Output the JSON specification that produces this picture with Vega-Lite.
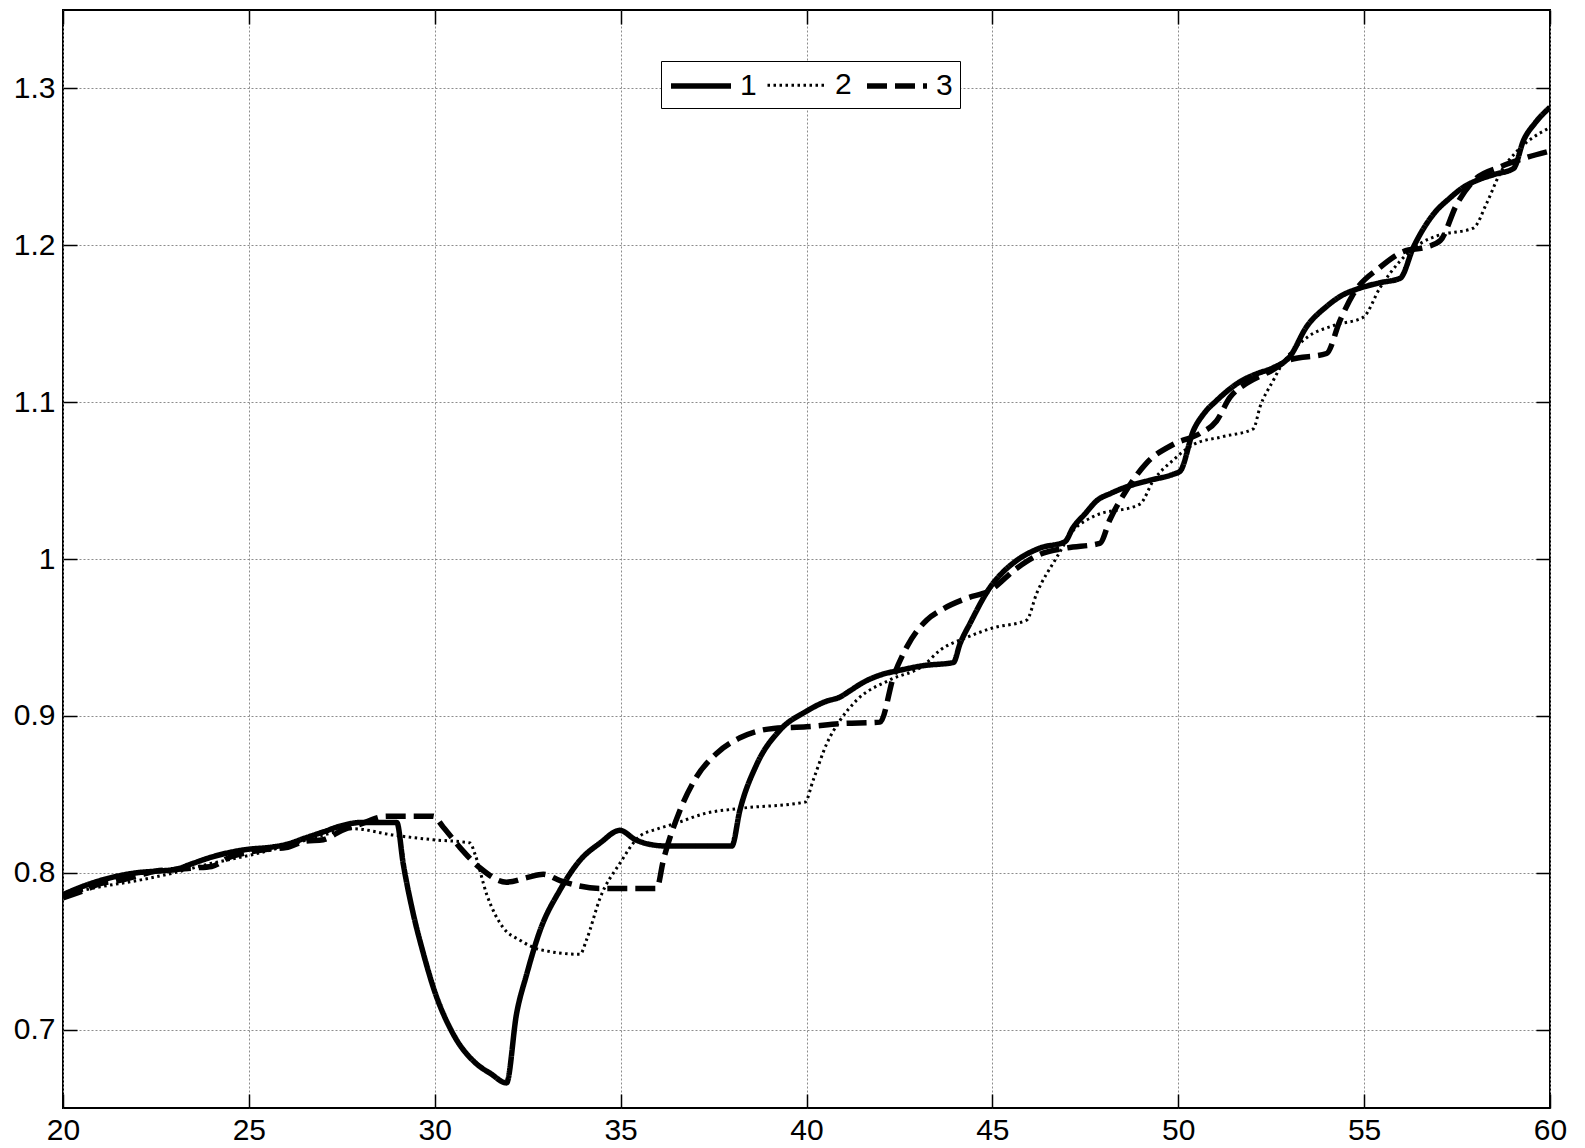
{
  "$schema": "https://vega.github.io/schema/vega-lite/v6.json",
  "width": 1487,
  "height": 1098,
  "autosize": {"type": "none"},
  "padding": {"left": 63, "top": 10, "right": 35, "bottom": 40},
  "background": "white",
  "config": {
    "view": {"stroke": "black", "strokeWidth": 2},
    "font": "Liberation Sans",
    "axis": {
      "labelFont": "Liberation Sans",
      "labelFontSize": 30,
      "labelColor": "black",
      "labelFlush": false,
      "labelOverlap": false,
      "domain": false,
      "gridColor": "#8c8c8c",
      "gridDash": [2, 2],
      "gridWidth": 1,
      "tickColor": "black",
      "tickSize": -14,
      "tickWidth": 1.5,
      "title": null,
      "labelPadding": 22
    },
    "axisBottom": {"labelPadding": 21}
  },
  "datasets": {
    "curves": [
      {"x": 20.0, "y": 0.786, "s": "1"}, {"x": 20.5, "y": 0.791, "s": "1"}, {"x": 21.0, "y": 0.795, "s": "1"}, {"x": 21.5, "y": 0.798, "s": "1"},
      {"x": 22.0, "y": 0.800, "s": "1"}, {"x": 22.5, "y": 0.801, "s": "1"}, {"x": 23.0, "y": 0.802, "s": "1"}, {"x": 23.5, "y": 0.806, "s": "1"},
      {"x": 24.0, "y": 0.810, "s": "1"}, {"x": 24.5, "y": 0.813, "s": "1"}, {"x": 25.0, "y": 0.815, "s": "1"}, {"x": 25.5, "y": 0.816, "s": "1"},
      {"x": 26.0, "y": 0.818, "s": "1"}, {"x": 26.5, "y": 0.822, "s": "1"}, {"x": 27.0, "y": 0.826, "s": "1"}, {"x": 27.5, "y": 0.830, "s": "1"},
      {"x": 28.0, "y": 0.832, "s": "1"}, {"x": 28.5, "y": 0.832, "s": "1"}, {"x": 28.98, "y": 0.832, "s": "1"}, {"x": 29.15, "y": 0.806, "s": "1"},
      {"x": 29.42, "y": 0.774, "s": "1"}, {"x": 29.7, "y": 0.748, "s": "1"}, {"x": 29.96, "y": 0.727, "s": "1"}, {"x": 30.5, "y": 0.697, "s": "1"},
      {"x": 31.13, "y": 0.678, "s": "1"}, {"x": 31.5, "y": 0.672, "s": "1"}, {"x": 31.93, "y": 0.666, "s": "1"}, {"x": 32.2, "y": 0.710, "s": "1"},
      {"x": 32.47, "y": 0.735, "s": "1"}, {"x": 32.83, "y": 0.763, "s": "1"}, {"x": 33.37, "y": 0.789, "s": "1"}, {"x": 33.91, "y": 0.808, "s": "1"},
      {"x": 34.45, "y": 0.819, "s": "1"}, {"x": 34.98, "y": 0.827, "s": "1"}, {"x": 35.4, "y": 0.821, "s": "1"}, {"x": 35.8, "y": 0.818, "s": "1"},
      {"x": 36.24, "y": 0.817, "s": "1"}, {"x": 37.99, "y": 0.817, "s": "1"}, {"x": 38.21, "y": 0.840, "s": "1"}, {"x": 38.66, "y": 0.869, "s": "1"},
      {"x": 39.29, "y": 0.891, "s": "1"}, {"x": 40.0, "y": 0.903, "s": "1"}, {"x": 40.5, "y": 0.909, "s": "1"}, {"x": 40.9, "y": 0.912, "s": "1"},
      {"x": 41.17, "y": 0.916, "s": "1"}, {"x": 41.5, "y": 0.921, "s": "1"}, {"x": 41.98, "y": 0.926, "s": "1"}, {"x": 42.5, "y": 0.929, "s": "1"},
      {"x": 43.14, "y": 0.932, "s": "1"}, {"x": 43.95, "y": 0.934, "s": "1"}, {"x": 44.13, "y": 0.946, "s": "1"}, {"x": 44.4, "y": 0.959, "s": "1"},
      {"x": 44.94, "y": 0.982, "s": "1"}, {"x": 45.3, "y": 0.992, "s": "1"}, {"x": 45.65, "y": 0.999, "s": "1"}, {"x": 46.28, "y": 1.007, "s": "1"},
      {"x": 46.95, "y": 1.011, "s": "1"}, {"x": 47.17, "y": 1.020, "s": "1"}, {"x": 47.5, "y": 1.029, "s": "1"}, {"x": 47.8, "y": 1.037, "s": "1"},
      {"x": 48.2, "y": 1.042, "s": "1"}, {"x": 48.61, "y": 1.046, "s": "1"}, {"x": 49.2, "y": 1.050, "s": "1"}, {"x": 49.86, "y": 1.054, "s": "1"},
      {"x": 50.05, "y": 1.056, "s": "1"}, {"x": 50.41, "y": 1.082, "s": "1"}, {"x": 50.7, "y": 1.093, "s": "1"}, {"x": 51.03, "y": 1.101, "s": "1"},
      {"x": 51.66, "y": 1.113, "s": "1"}, {"x": 52.1, "y": 1.118, "s": "1"}, {"x": 52.56, "y": 1.122, "s": "1"}, {"x": 53.0, "y": 1.129, "s": "1"},
      {"x": 53.45, "y": 1.148, "s": "1"}, {"x": 53.99, "y": 1.161, "s": "1"}, {"x": 54.4, "y": 1.168, "s": "1"}, {"x": 54.8, "y": 1.172, "s": "1"},
      {"x": 55.4, "y": 1.176, "s": "1"}, {"x": 55.97, "y": 1.179, "s": "1"}, {"x": 56.33, "y": 1.199, "s": "1"}, {"x": 56.87, "y": 1.220, "s": "1"},
      {"x": 57.3, "y": 1.230, "s": "1"}, {"x": 57.67, "y": 1.237, "s": "1"}, {"x": 58.1, "y": 1.242, "s": "1"}, {"x": 58.48, "y": 1.245, "s": "1"},
      {"x": 59.02, "y": 1.249, "s": "1"}, {"x": 59.29, "y": 1.267, "s": "1"}, {"x": 59.6, "y": 1.278, "s": "1"}, {"x": 60.0, "y": 1.288, "s": "1"},

      {"x": 20.0, "y": 0.786, "s": "2"}, {"x": 21.0, "y": 0.791, "s": "2"}, {"x": 22.0, "y": 0.795, "s": "2"}, {"x": 23.0, "y": 0.800, "s": "2"},
      {"x": 24.0, "y": 0.806, "s": "2"}, {"x": 25.0, "y": 0.811, "s": "2"}, {"x": 26.0, "y": 0.817, "s": "2"}, {"x": 27.0, "y": 0.824, "s": "2"},
      {"x": 27.81, "y": 0.828, "s": "2"}, {"x": 28.88, "y": 0.824, "s": "2"}, {"x": 29.96, "y": 0.821, "s": "2"}, {"x": 30.95, "y": 0.819, "s": "2"},
      {"x": 31.08, "y": 0.812, "s": "2"}, {"x": 31.4, "y": 0.786, "s": "2"}, {"x": 31.84, "y": 0.765, "s": "2"}, {"x": 32.29, "y": 0.757, "s": "2"},
      {"x": 32.83, "y": 0.751, "s": "2"}, {"x": 33.91, "y": 0.748, "s": "2"}, {"x": 34.08, "y": 0.757, "s": "2"}, {"x": 34.45, "y": 0.784, "s": "2"},
      {"x": 34.98, "y": 0.806, "s": "2"}, {"x": 35.5, "y": 0.823, "s": "2"}, {"x": 36.0, "y": 0.828, "s": "2"}, {"x": 36.42, "y": 0.831, "s": "2"},
      {"x": 37.31, "y": 0.838, "s": "2"}, {"x": 38.21, "y": 0.841, "s": "2"}, {"x": 39.96, "y": 0.845, "s": "2"}, {"x": 40.18, "y": 0.859, "s": "2"},
      {"x": 40.54, "y": 0.882, "s": "2"}, {"x": 40.9, "y": 0.897, "s": "2"}, {"x": 41.35, "y": 0.910, "s": "2"}, {"x": 42.25, "y": 0.923, "s": "2"},
      {"x": 43.14, "y": 0.932, "s": "2"}, {"x": 43.6, "y": 0.942, "s": "2"}, {"x": 44.31, "y": 0.950, "s": "2"}, {"x": 45.0, "y": 0.956, "s": "2"},
      {"x": 45.92, "y": 0.961, "s": "2"}, {"x": 46.19, "y": 0.978, "s": "2"}, {"x": 46.73, "y": 1.001, "s": "2"}, {"x": 47.17, "y": 1.018, "s": "2"},
      {"x": 47.71, "y": 1.027, "s": "2"}, {"x": 48.97, "y": 1.035, "s": "2"}, {"x": 49.33, "y": 1.050, "s": "2"}, {"x": 49.86, "y": 1.063, "s": "2"},
      {"x": 50.41, "y": 1.073, "s": "2"}, {"x": 51.2, "y": 1.078, "s": "2"}, {"x": 52.02, "y": 1.083, "s": "2"}, {"x": 52.2, "y": 1.097, "s": "2"},
      {"x": 52.56, "y": 1.114, "s": "2"}, {"x": 52.74, "y": 1.122, "s": "2"}, {"x": 53.45, "y": 1.141, "s": "2"}, {"x": 54.2, "y": 1.149, "s": "2"},
      {"x": 54.97, "y": 1.154, "s": "2"}, {"x": 55.43, "y": 1.173, "s": "2"}, {"x": 55.97, "y": 1.190, "s": "2"}, {"x": 56.5, "y": 1.201, "s": "2"},
      {"x": 56.96, "y": 1.206, "s": "2"}, {"x": 57.94, "y": 1.211, "s": "2"}, {"x": 58.3, "y": 1.227, "s": "2"}, {"x": 58.66, "y": 1.246, "s": "2"},
      {"x": 59.11, "y": 1.260, "s": "2"}, {"x": 59.5, "y": 1.268, "s": "2"}, {"x": 60.0, "y": 1.275, "s": "2"},

      {"x": 20.0, "y": 0.784, "s": "3"}, {"x": 20.5, "y": 0.788, "s": "3"}, {"x": 21.0, "y": 0.793, "s": "3"}, {"x": 21.5, "y": 0.795, "s": "3"},
      {"x": 22.0, "y": 0.798, "s": "3"}, {"x": 22.5, "y": 0.801, "s": "3"}, {"x": 23.0, "y": 0.802, "s": "3"}, {"x": 23.5, "y": 0.803, "s": "3"},
      {"x": 24.0, "y": 0.804, "s": "3"}, {"x": 24.5, "y": 0.810, "s": "3"}, {"x": 25.0, "y": 0.813, "s": "3"}, {"x": 25.5, "y": 0.815, "s": "3"},
      {"x": 26.0, "y": 0.816, "s": "3"}, {"x": 26.5, "y": 0.820, "s": "3"}, {"x": 27.0, "y": 0.821, "s": "3"}, {"x": 27.5, "y": 0.827, "s": "3"},
      {"x": 28.0, "y": 0.831, "s": "3"}, {"x": 28.7, "y": 0.836, "s": "3"}, {"x": 29.96, "y": 0.836, "s": "3"}, {"x": 30.23, "y": 0.829, "s": "3"},
      {"x": 30.68, "y": 0.816, "s": "3"}, {"x": 31.22, "y": 0.803, "s": "3"}, {"x": 31.93, "y": 0.794, "s": "3"}, {"x": 32.5, "y": 0.797, "s": "3"},
      {"x": 32.92, "y": 0.799, "s": "3"}, {"x": 33.37, "y": 0.795, "s": "3"}, {"x": 34.45, "y": 0.790, "s": "3"}, {"x": 35.97, "y": 0.790, "s": "3"},
      {"x": 36.15, "y": 0.808, "s": "3"}, {"x": 36.6, "y": 0.840, "s": "3"}, {"x": 37.04, "y": 0.861, "s": "3"}, {"x": 37.58, "y": 0.876, "s": "3"},
      {"x": 38.21, "y": 0.886, "s": "3"}, {"x": 39.11, "y": 0.892, "s": "3"}, {"x": 40.0, "y": 0.893, "s": "3"}, {"x": 40.9, "y": 0.895, "s": "3"},
      {"x": 41.98, "y": 0.896, "s": "3"}, {"x": 42.34, "y": 0.925, "s": "3"}, {"x": 42.7, "y": 0.944, "s": "3"}, {"x": 43.23, "y": 0.961, "s": "3"},
      {"x": 43.59, "y": 0.967, "s": "3"}, {"x": 44.31, "y": 0.975, "s": "3"}, {"x": 44.94, "y": 0.980, "s": "3"}, {"x": 45.65, "y": 0.994, "s": "3"},
      {"x": 46.28, "y": 1.003, "s": "3"}, {"x": 46.99, "y": 1.007, "s": "3"}, {"x": 47.89, "y": 1.010, "s": "3"}, {"x": 48.16, "y": 1.025, "s": "3"},
      {"x": 48.61, "y": 1.044, "s": "3"}, {"x": 49.14, "y": 1.061, "s": "3"}, {"x": 49.86, "y": 1.073, "s": "3"}, {"x": 50.58, "y": 1.080, "s": "3"},
      {"x": 51.03, "y": 1.088, "s": "3"}, {"x": 51.39, "y": 1.103, "s": "3"}, {"x": 51.84, "y": 1.112, "s": "3"}, {"x": 52.5, "y": 1.120, "s": "3"},
      {"x": 53.0, "y": 1.127, "s": "3"}, {"x": 53.99, "y": 1.131, "s": "3"}, {"x": 54.35, "y": 1.152, "s": "3"}, {"x": 54.71, "y": 1.169, "s": "3"},
      {"x": 55.43, "y": 1.186, "s": "3"}, {"x": 56.06, "y": 1.196, "s": "3"}, {"x": 56.69, "y": 1.199, "s": "3"}, {"x": 57.05, "y": 1.203, "s": "3"},
      {"x": 57.49, "y": 1.226, "s": "3"}, {"x": 57.94, "y": 1.241, "s": "3"}, {"x": 58.66, "y": 1.250, "s": "3"}, {"x": 59.38, "y": 1.256, "s": "3"},
      {"x": 60.0, "y": 1.260, "s": "3"}
    ]
  },
  "data": {"name": "curves"},
  "layer": [
    {
      "mark": {"type": "line", "color": "black", "strokeCap": "butt", "strokeJoin": "round", "interpolate": "monotone", "clip": true},
      "encoding": {
        "x": {
          "field": "x", "type": "quantitative",
          "scale": {"domain": [20, 60], "nice": false, "zero": false},
          "axis": {"orient": "bottom", "grid": true, "values": [20, 25, 30, 35, 40, 45, 50, 55, 60]}
        },
        "y": {
          "field": "y", "type": "quantitative",
          "scale": {"domain": [0.65, 1.35], "nice": false, "zero": false},
          "axis": {"orient": "left", "grid": true, "format": "~g", "values": [0.7, 0.8, 0.9, 1, 1.1, 1.2, 1.3]}
        },
        "strokeDash": {
          "field": "s", "type": "nominal",
          "scale": {"type": "ordinal", "domain": ["1", "2", "3"], "range": [[1, 0], [2.5, 3.5], [20, 8]]},
          "legend": {
            "orient": "none", "legendX": 598, "legendY": 51, "direction": "horizontal",
            "title": null, "symbolType": "M-2,0H2", "symbolSize": 900,
            "symbolStrokeColor": "black", "labelFontSize": 30, "labelFont": "Liberation Sans",
            "labelColor": "black", "strokeColor": "black", "fillColor": "white",
            "padding": 7, "columnPadding": 4, "labelOffset": 21, "symbolOffset": 15
          }
        },
        "strokeWidth": {
          "field": "s", "type": "nominal",
          "scale": {"type": "ordinal", "domain": ["1", "2", "3"], "range": [5.5, 3, 5.5]},
          "legend": {
            "orient": "none", "legendX": 598, "legendY": 51, "direction": "horizontal",
            "title": null, "symbolType": "M-2,0H2", "symbolSize": 900,
            "symbolStrokeColor": "black", "labelFontSize": 30, "labelFont": "Liberation Sans",
            "labelColor": "black", "strokeColor": "black", "fillColor": "white",
            "padding": 7, "columnPadding": 4, "labelOffset": 21, "symbolOffset": 15
          }
        }
      }
    },
    {
      "mark": {"type": "line", "opacity": 0},
      "encoding": {
        "x": {
          "field": "x", "type": "quantitative",
          "scale": {"domain": [20, 60], "nice": false, "zero": false},
          "axis": {"orient": "top", "grid": false, "labels": false, "values": [20, 25, 30, 35, 40, 45, 50, 55, 60]}
        },
        "y": {
          "field": "y", "type": "quantitative",
          "scale": {"domain": [0.65, 1.35], "nice": false, "zero": false},
          "axis": {"orient": "right", "grid": false, "labels": false, "values": [0.7, 0.8, 0.9, 1, 1.1, 1.2, 1.3]}
        },
        "detail": {"field": "s", "type": "nominal"}
      }
    }
  ],
  "resolve": {"axis": {"x": "independent", "y": "independent"}}
}
